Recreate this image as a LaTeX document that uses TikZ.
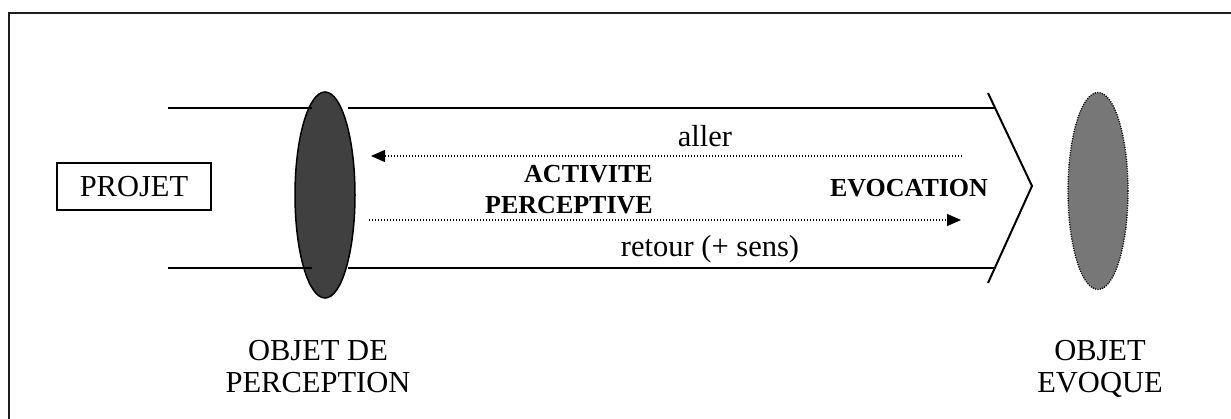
\documentclass[tikz,border=0pt]{standalone}
\usepackage{fontspec}
\setmainfont{Liberation Serif}
\usetikzlibrary{shapes.geometric,arrows.meta}
\definecolor{darkfill}{RGB}{64,64,64}
\definecolor{grayfill}{RGB}{119,119,119}
\definecolor{framecol}{RGB}{30,30,30}
\begin{document}
\begin{tikzpicture}[x=1pt,y=-1pt,
  lbl/.style={font=\fontsize{30.5}{31}\selectfont, inner sep=0pt, anchor=base},
  blbl/.style={font=\fontsize{26}{32}\selectfont\bfseries, inner sep=0pt},
  solidline/.style={line width=2pt},
  dotarrow/.style={line width=1.3pt, dash pattern=on 1.3pt off 1.7pt, -{Triangle[length=14pt,width=12pt]}},
  objell/.style={ellipse, draw, inner sep=0pt, minimum width=60pt},
]
\useasboundingbox (0,0) rectangle (1231,419);
% frame
\coordinate (fbl) at (9,440);
\coordinate (ftl) at (9,13);
\coordinate (ftr) at (1240,13);
\draw[line width=2pt, color=framecol] (fbl) -- (ftl) -- (ftr);

% object of perception
\node[objell, line width=1.5pt, fill=darkfill, minimum height=206pt] (perc) at (325,195) {};
% evoked object
\node[objell, line width=1.3pt, dash pattern=on 1.1pt off 1.3pt, fill=grayfill, minimum height=197pt] (evoq) at (1098,191) {};

% tube lines
\coordinate (tl0) at (168,108);
\coordinate (tl1) at (312,108);
\coordinate (tr0) at (348,108);
\coordinate (tr1) at (995,108);
\coordinate (bl0) at (168,268);
\coordinate (bl1) at (312,268);
\coordinate (br0) at (348,268);
\coordinate (br1) at (995,268);
\draw[solidline] (tl0) -- (tl1);
\draw[solidline] (tr0) -- (tr1);
\draw[solidline] (bl0) -- (bl1);
\draw[solidline] (br0) -- (br1);

% chevron
\coordinate (chT) at (988,93);
\coordinate (chP) at (1032,186);
\coordinate (chB) at (988,283);
\draw[solidline, line join=miter] (chT) -- (chP) -- (chB);

% dotted arrows
\coordinate (a0) at (962,156);
\coordinate (a1) at (371,156);
\coordinate (r0) at (369,220);
\coordinate (r1) at (961,220);
\draw[dotarrow] (a0) -- (a1);
\draw[dotarrow] (r0) -- (r1);

% texts
\node[lbl] (aller) at (705,147) {aller};
\node[lbl] (retour) at (710,257) {retour (+ sens)};
\node[blbl, anchor=base east] (act1) at (653,183) {ACTIVITE};
\node[blbl, anchor=base east] (act2) at (653,214) {PERCEPTIVE};
\node[blbl, anchor=base] (evoc) at (909,197) {EVOCATION};

\node[draw, line width=1.5pt, font=\fontsize{30.5}{31}\selectfont, inner sep=0pt,
      minimum width=154pt, minimum height=47pt, text height=20pt, text depth=0pt] (projet) at (134,186.5) {PROJET};

\node[lbl] (op1) at (318,361) {OBJET DE};
\node[lbl] (op2) at (318,392) {PERCEPTION};
\node[lbl] (oe1) at (1100,361) {OBJET};
\node[lbl] (oe2) at (1100,392) {EVOQUE};
\end{tikzpicture}
\end{document}
